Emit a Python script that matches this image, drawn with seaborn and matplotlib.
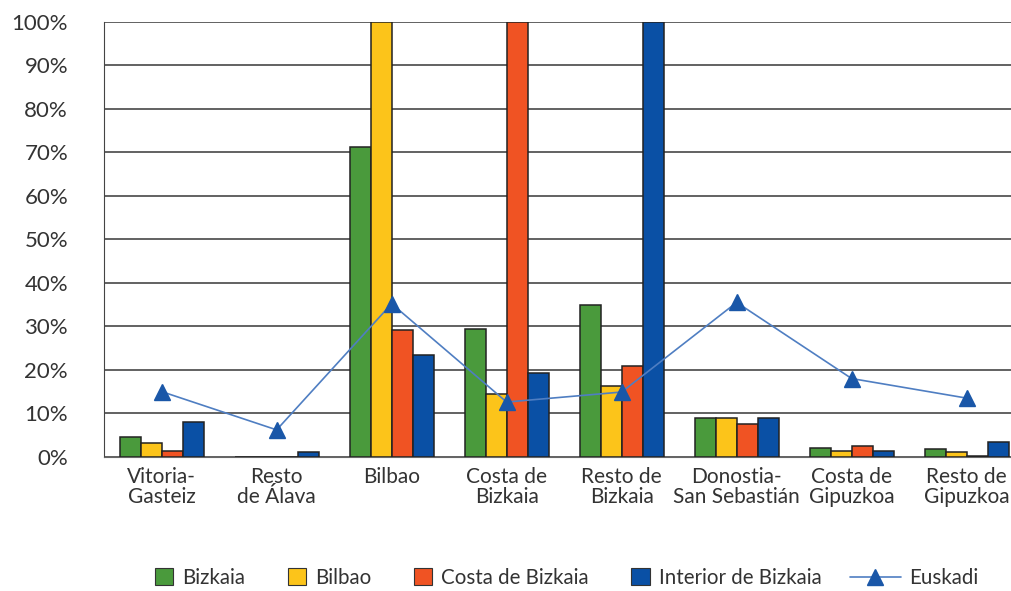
import pandas as pd
import numpy as np
import matplotlib.pyplot as plt
import seaborn as sns
from matplotlib.ticker import PercentFormatter

sns.set_style("white")
plt.rcParams['font.family'] = ['Lato', 'DejaVu Sans']

zonas = ["Vitoria-\nGasteiz", "Resto\nde Álava", "Bilbao", "Costa de\nBizkaia",
         "Resto de\nBizkaia", "Donostia-\nSan Sebastián", "Costa de\nGipuzkoa", "Resto de\nGipuzkoa"]
series = ["Bizkaia", "Bilbao", "Costa de Bizkaia", "Interior de Bizkaia"]
bizkaia = [4.5, 0.0, 71.2, 29.3, 35.0, 9.0, 2.0, 1.8]
bilbao = [3.2, 0.0, 100.0, 14.5, 16.2, 9.0, 1.3, 1.2]
costa = [1.3, 0.0, 29.2, 100.0, 20.9, 7.6, 2.5, 0.3]
interior = [8.0, 1.2, 23.4, 19.3, 100.0, 9.0, 1.3, 3.3]
euskadi = [15.0, 6.2, 35.2, 12.6, 14.9, 35.5, 18.0, 13.5]

colors = ["#4a9a3c", "#fcc41a", "#f05323", "#0a50a5"]
line_col = "#4f7ec2"
mark_col = "#1a57a8"

df = pd.DataFrame({
    "zona": zonas * 4,
    "serie": np.repeat(series, len(zonas)),
    "valor": bizkaia + bilbao + costa + interior,
})

fig = plt.figure(figsize=(10.11, 5.91), dpi=100)
ax = fig.add_axes([0.103, 0.227, 0.91, 0.736])

sns.barplot(data=df, x="zona", y="valor", hue="serie", palette=colors, width=0.73,
            saturation=1, edgecolor="#222222", linewidth=1.1, ax=ax, legend=False, zorder=3)
ax.plot(range(len(zonas)), euskadi, color=line_col, lw=1.2, marker="^", markersize=11,
        markerfacecolor=mark_col, markeredgecolor=mark_col, zorder=4, label="Euskadi")

ax.set_ylim(0, 100)
ax.set_xlim(-0.5, 7.5)
ax.set_yticks(range(0, 101, 10))
ax.yaxis.set_major_formatter(PercentFormatter(decimals=0))
ax.grid(axis="y", color="#555555", lw=1.3, zorder=0)
ax.set_axisbelow(True)
for s in ["top", "right"]:
    ax.spines[s].set_visible(False)
ax.spines["left"].set_color("#444444")
ax.spines["bottom"].set_color("#666666")
ax.tick_params(axis="y", length=6, color="#555555", labelsize=16, labelcolor="#333333", pad=20)
ax.tick_params(axis="x", length=0, labelsize=15, labelcolor="#333333", pad=7)
for lab in ax.get_xticklabels():
    lab.set_linespacing(1.05)
ax.set_xlabel("")
ax.set_ylabel("")

# legend: bar series, then the Euskadi line with a longer handle
handles = [plt.Rectangle((0, 0), 1, 1, facecolor=c, edgecolor="#333333", lw=0.8) for c in colors]
fig.legend(handles, series, loc="center left", bbox_to_anchor=(0.153, 0.022), ncol=4,
           frameon=False, fontsize=14.8, handlelength=0.9, handleheight=0.9,
           columnspacing=2.05, handletextpad=0.45, borderpad=0, borderaxespad=0,
           labelcolor="#333333")
line_h = plt.Line2D([], [], color=line_col, lw=1.2, marker="^", markersize=12,
                    markerfacecolor=mark_col, markeredgecolor=mark_col)
fig.legend([line_h], ["Euskadi"], loc="center left", bbox_to_anchor=(0.841, 0.022),
           frameon=False, fontsize=14.8, handlelength=2.45, handletextpad=0.4,
           borderpad=0, borderaxespad=0, labelcolor="#333333")

fig.savefig("out.png", dpi=100)
